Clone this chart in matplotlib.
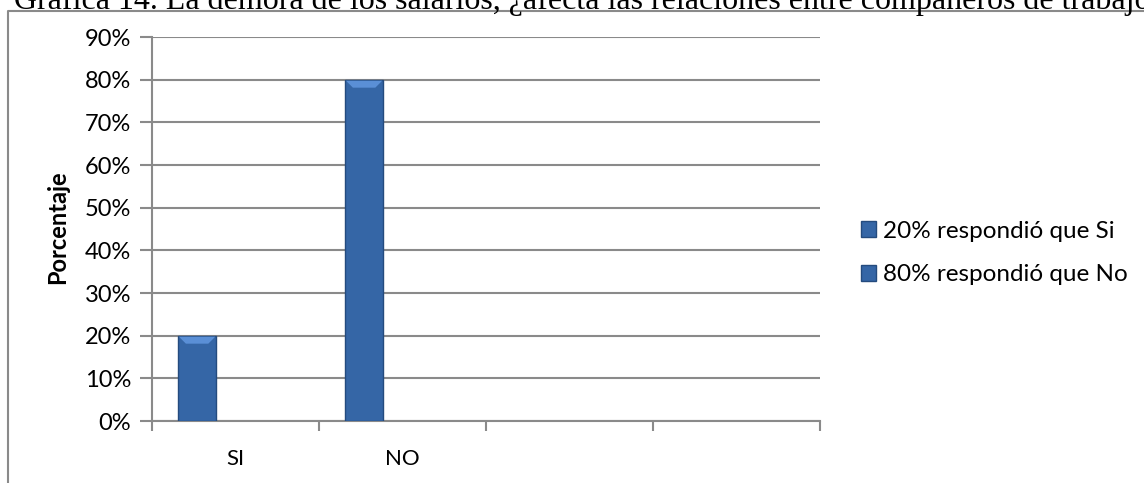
import matplotlib
matplotlib.use("Agg")
import matplotlib.pyplot as plt
from matplotlib.patches import Polygon, Rectangle
from matplotlib.lines import Line2D
from matplotlib.ticker import PercentFormatter, FixedLocator

# Data
categories = ["SI", "NO", "", ""]
percentages = [20, 80, None, None]
legend_labels = ["20% respondió que Si", "80% respondió que No"]
title_text = ("Grafica 14. La demora de los salarios, ¿afecta las relaciones "
              "entre compañeros de trabajo?")
y_label = "Porcentaje"

W, H, DPI = 1144, 483, 100
fig = plt.figure(figsize=(W / DPI, H / DPI), dpi=DPI)
plt.rcParams["font.family"] = ["Lato", "DejaVu Sans"]

GRID = "#8a8a8a"
BAR = "#3566a6"
BAR_EDGE = "#244b7e"
BEVEL = "#5a8fd6"

def px(x0, y0, x1, y1):
    """figure fraction box from pixel coords (top-left origin)"""
    return [x0 / W, 1 - y1 / H, (x1 - x0) / W, (y1 - y0) / H]

ax = fig.add_axes(px(152, 37, 820, 421))

bar_w = 0.23
xs = [i - bar_w for i, v in enumerate(percentages) if v is not None]
vals = [v for v in percentages if v is not None]
bars = ax.bar(xs, vals, width=bar_w, color=BAR, edgecolor=BAR_EDGE,
              linewidth=1.0, zorder=3)

ax.set_xlim(-0.5, len(categories) - 0.5)
ax.set_ylim(0, 90)

# light bevel across the top of each bar
to_px = ax.transData
inv = ax.transData.inverted()
for r in bars:
    x0, h, w = r.get_x(), r.get_height(), r.get_width()
    (ax0, ay0) = to_px.transform((x0, h))
    (ax1, _) = to_px.transform((x0 + w, h))
    d = 8
    pts_px = [(ax0 + 1, ay0 - 1), (ax1 - 1, ay0 - 1), (ax1 - d, ay0 - d), (ax0 + d, ay0 - d)]
    pts = inv.transform(pts_px)
    ax.add_patch(Polygon(pts, closed=True, facecolor=BEVEL, edgecolor="none", zorder=4))

ax.yaxis.set_major_locator(FixedLocator(range(0, 91, 10)))
ax.yaxis.set_major_formatter(PercentFormatter(decimals=0))
ax.set_xticks(range(len(categories)))
ax.set_xticklabels(categories)
ax.set_xticks([i - 0.5 for i in range(len(categories) + 1)], minor=True)
ax.tick_params(axis="x", which="major", length=0, pad=20, labelsize=16)
ax.tick_params(axis="x", which="minor", length=7, width=1.5, color=GRID)
ax.tick_params(axis="y", length=9, width=1.5, color=GRID, labelsize=17, pad=6)

ax.grid(axis="y", color=GRID, linewidth=1.5, zorder=0)
ax.set_axisbelow(True)
for s in ("top", "right"):
    ax.spines[s].set_visible(False)
for s in ("left", "bottom"):
    ax.spines[s].set_color(GRID)
    ax.spines[s].set_linewidth(1.5)

fig.text(58 / W, 1 - 227 / H, y_label, rotation=90, ha="center", va="center",
         fontsize=17, fontweight="bold")

# legend
handles = [Rectangle((0, 0), 1, 1, facecolor=BAR, edgecolor=BAR_EDGE) for _ in legend_labels]
fig.legend(handles, legend_labels, loc="center left",
           bbox_to_anchor=(861 / W, 1 - 253 / H), frameon=False, fontsize=17.5,
           handlelength=0.62, handleheight=0.62, handletextpad=0.3, labelspacing=0.93,
           borderpad=0, borderaxespad=0)

# outer chart frame
fig.add_artist(Line2D([7.5 / W, 7.5 / W, 1.0], [0.0, 1 - 11 / H, 1 - 11 / H],
                      transform=fig.transFigure, color=GRID, linewidth=1.5))

fig.text(14 / W, 1 - 9 / H, title_text, ha="left", va="baseline",
         fontsize=23.07, family="Liberation Serif")

fig.savefig("out.png", dpi=DPI)
